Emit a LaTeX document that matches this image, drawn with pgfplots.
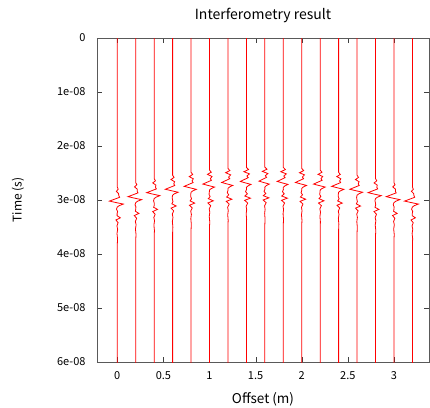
\documentclass[border=0pt]{standalone}
\usepackage{fontspec}
\setmainfont{Noto Sans CJK JP}
\usepackage{pgfplots}
\usepackage{pgfplotstable}
\pgfplotsset{compat=1.18}
\pgfplotsset{tr/.style={red, mark=none, line width=0.8pt}}

% wavelet picked off the traces: t = time from the main trough (1e-8 s),
% m = main arrival (offset units), p = early/late scattered part
\pgfplotstableread{
t      m       p
-5.00  0       0
-0.26  0       0
-0.22  0.004   0.020
-0.18 -0.003  -0.025
-0.14  0.004   0.030
-0.10  0.020  -0.010
-0.07  0.025   0
-0.035 -0.030  0
0.000 -0.085   0
0.025 -0.020   0
0.055  0.065   0
0.085  0.020   0
0.110  0.000   0
0.150 -0.012   0.010
0.190  0.008  -0.015
0.230 -0.006   0.015
0.270  0.004  -0.020
0.310  0.025   0.025
0.350 -0.012  -0.010
0.400  0.006   0.010
0.460 -0.004   0
0.520  0.004   0
0.600 -0.003   0
0.700  0.003   0
0.800  0       0
5.000  0       0
}\wave

\begin{document}
\begin{tikzpicture}
\begin{axis}[
  name=ax, at={(0,0)}, anchor=south west,
  scale only axis, width=332pt, height=324pt,
  xmin=-0.22, xmax=3.38,
  ymin=0, ymax=6, y dir=reverse,
  xtick={0,0.5,...,3}, ytick={0,1,...,6},
  yticklabels={0,1e-08,2e-08,3e-08,4e-08,5e-08,6e-08},
  /pgf/number format/assume math mode=true,
  tick align=inside, major tick length=5pt,
  tick style={black!75},
  axis line style={black!65},
  font=\fontsize{11}{12}\selectfont,
  xticklabel style={yshift=-6pt},
  yticklabel style={xshift=-8pt},
  title={Interferometry result},
  title style={at={(axis description cs:0.5,1.05)}, anchor=center,
    font=\fontsize{14}{16}\selectfont},
  xlabel={Offset (m)},
  xlabel style={at={(axis description cs:0.5,-0.114)}, anchor=center,
    font=\fontsize{13.5}{16}\selectfont},
  ylabel={Time (s)},
  ylabel style={at={(axis description cs:-0.238,0.5)}, anchor=center,
    font=\fontsize{12}{14}\selectfont},
]
\addplot[tr] table[x expr=0.0+1.00*\thisrow{m}+0.30*\thisrow{p}, y expr=\thisrow{t}+3.020] {\wave};
\addplot[tr] table[x expr=0.2+0.98*\thisrow{m}+0.40*\thisrow{p}, y expr=\thisrow{t}+2.938] {\wave};
\addplot[tr] table[x expr=0.4+0.95*\thisrow{m}+0.50*\thisrow{p}, y expr=\thisrow{t}+2.864] {\wave};
\addplot[tr] table[x expr=0.6+0.92*\thisrow{m}+0.60*\thisrow{p}, y expr=\thisrow{t}+2.801] {\wave};
\addplot[tr] table[x expr=0.8+0.88*\thisrow{m}+0.70*\thisrow{p}, y expr=\thisrow{t}+2.747] {\wave};
\addplot[tr] table[x expr=1.0+0.84*\thisrow{m}+0.80*\thisrow{p}, y expr=\thisrow{t}+2.705] {\wave};
\addplot[tr] table[x expr=1.2+0.80*\thisrow{m}+0.90*\thisrow{p}, y expr=\thisrow{t}+2.675] {\wave};
\addplot[tr] table[x expr=1.4+0.77*\thisrow{m}+1.00*\thisrow{p}, y expr=\thisrow{t}+2.656] {\wave};
\addplot[tr] table[x expr=1.6+0.75*\thisrow{m}+1.00*\thisrow{p}, y expr=\thisrow{t}+2.650] {\wave};
\addplot[tr] table[x expr=1.8+0.77*\thisrow{m}+1.00*\thisrow{p}, y expr=\thisrow{t}+2.656] {\wave};
\addplot[tr] table[x expr=2.0+0.80*\thisrow{m}+0.90*\thisrow{p}, y expr=\thisrow{t}+2.675] {\wave};
\addplot[tr] table[x expr=2.2+0.84*\thisrow{m}+0.80*\thisrow{p}, y expr=\thisrow{t}+2.705] {\wave};
\addplot[tr] table[x expr=2.4+0.88*\thisrow{m}+0.70*\thisrow{p}, y expr=\thisrow{t}+2.747] {\wave};
\addplot[tr] table[x expr=2.6+0.92*\thisrow{m}+0.60*\thisrow{p}, y expr=\thisrow{t}+2.801] {\wave};
\addplot[tr] table[x expr=2.8+0.95*\thisrow{m}+0.50*\thisrow{p}, y expr=\thisrow{t}+2.864] {\wave};
\addplot[tr] table[x expr=3.0+0.98*\thisrow{m}+0.40*\thisrow{p}, y expr=\thisrow{t}+2.938] {\wave};
\addplot[tr] table[x expr=3.2+1.00*\thisrow{m}+0.30*\thisrow{p}, y expr=\thisrow{t}+3.020] {\wave};
\end{axis}
\pgfresetboundingbox
\path[use as bounding box] (-97pt,-45pt) rectangle (333pt,362pt);
\end{tikzpicture}
\end{document}
